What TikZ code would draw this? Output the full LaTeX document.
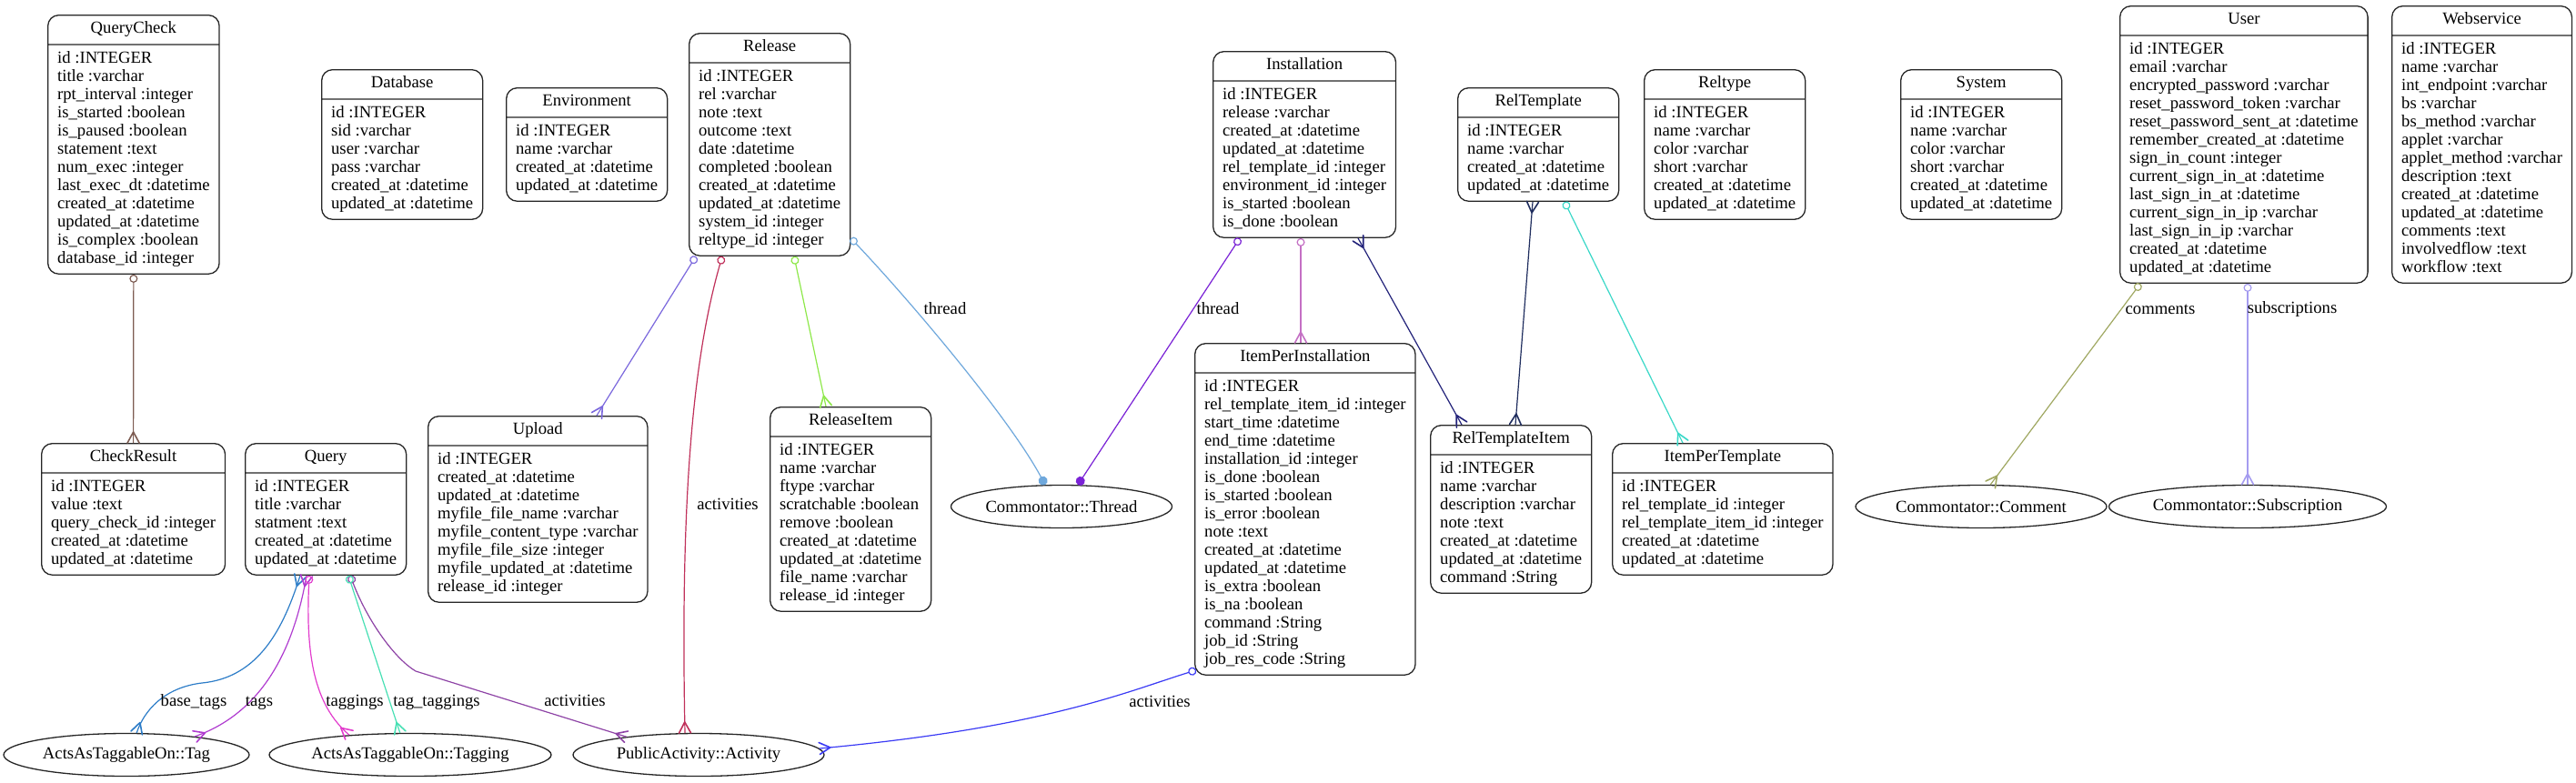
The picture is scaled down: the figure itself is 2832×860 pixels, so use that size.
\documentclass[tikz,border=0pt]{standalone}
\usepackage{fontspec}
\setmainfont{Liberation Serif}
\usetikzlibrary{shapes.multipart,shapes.geometric,arrows.meta,calc}

\pgfdeclarearrow{
  name = crowfoot,
  setup code = {
    \pgfarrowssettipend{0pt}
    \pgfarrowssetlineend{0pt}
    \pgfarrowssetbackend{-12pt}
    \pgfarrowssetvisualbackend{-12pt}
    \pgfarrowshullpoint{0pt}{6.5pt}
    \pgfarrowshullpoint{0pt}{-6.5pt}
    \pgfarrowshullpoint{-12pt}{0pt}
  },
  drawing code = {
    \pgfsetdash{}{0pt}
    \pgfsetroundjoin
    \pgfsetroundcap
    \pgfsetlinewidth{1.6pt}
    \pgfpathmoveto{\pgfqpoint{0pt}{6.5pt}}
    \pgfpathlineto{\pgfqpoint{-12pt}{0pt}}
    \pgfpathlineto{\pgfqpoint{0pt}{-6.5pt}}
    \pgfusepathqstroke
  }
}
\tikzset{oc/.tip={Circle[open,length=9pt,width=9pt]},
         dt/.tip={Circle[length=10pt,width=10pt]}}

\definecolor{cBrown}{RGB}{125,92,82}
\definecolor{cBaseTags}{RGB}{45,125,200}
\definecolor{cTags}{RGB}{176,60,208}
\definecolor{cTaggings}{RGB}{226,60,205}
\definecolor{cTagTaggings}{RGB}{72,224,180}
\definecolor{cQAct}{RGB}{142,68,166}
\definecolor{cUpload}{RGB}{123,104,221}
\definecolor{cRAct}{RGB}{192,48,90}
\definecolor{cRItem}{RGB}{142,232,74}
\definecolor{cRThread}{RGB}{111,168,220}
\definecolor{cIThread}{RGB}{122,34,214}
\definecolor{cIPI}{RGB}{196,112,196}
\definecolor{cNavy}{RGB}{35,35,122}
\definecolor{cDNavy}{RGB}{31,45,94}
\definecolor{cTurq}{RGB}{58,216,200}
\definecolor{cBlue}{RGB}{59,59,245}
\definecolor{cOlive}{RGB}{160,168,98}
\definecolor{cLav}{RGB}{165,156,240}

\newcommand{\erdrows}[1]{\begin{tabular}{@{}l@{}}#1\end{tabular}}
\newcommand{\erdfont}{\fontsize{18.67}{20}\selectfont}

\begin{document}
\begin{tikzpicture}[x=1pt,y=-1pt,
  tbl/.style={rectangle split, rectangle split parts=2, draw=black!85,
    line width=1.3pt, rounded corners=12pt, inner xsep=10.5pt, inner ysep=5.5pt,
    rectangle split part align={center,left}, anchor=north west, font=\erdfont},
  ell/.style={ellipse, draw=black!85, line width=1.3pt, inner sep=0pt,
    minimum height=47pt, font=\erdfont},
  lbl/.style={inner sep=0pt, font=\erdfont},
  con/.style={line width=1.2pt}]

\fill[white] (0,0) rectangle (2832,860);
\useasboundingbox (0,0) rectangle (2832,860);

% ---------- tables ----------
\node[tbl] (qc) at (52,16) {\strut QueryCheck\nodepart{two}\erdrows{id :INTEGER\\title :varchar\\rpt\_interval :integer\\is\_started :boolean\\is\_paused :boolean\\statement :text\\num\_exec :integer\\last\_exec\_dt :datetime\\created\_at :datetime\\updated\_at :datetime\\is\_complex :boolean\\database\_id :integer}};

\node[tbl] (db) at (353,76) {\strut Database\nodepart{two}\erdrows{id :INTEGER\\sid :varchar\\user :varchar\\pass :varchar\\created\_at :datetime\\updated\_at :datetime}};

\node[tbl] (env) at (556,96) {\strut Environment\nodepart{two}\erdrows{id :INTEGER\\name :varchar\\created\_at :datetime\\updated\_at :datetime}};

\node[tbl] (rel) at (757,36) {\strut Release\nodepart{two}\erdrows{id :INTEGER\\rel :varchar\\note :text\\outcome :text\\date :datetime\\completed :boolean\\created\_at :datetime\\updated\_at :datetime\\system\_id :integer\\reltype\_id :integer}};

\node[tbl] (inst) at (1333,56) {\strut Installation\nodepart{two}\erdrows{id :INTEGER\\release :varchar\\created\_at :datetime\\updated\_at :datetime\\rel\_template\_id :integer\\environment\_id :integer\\is\_started :boolean\\is\_done :boolean}};

\node[tbl] (rt) at (1602,96) {\strut RelTemplate\nodepart{two}\erdrows{id :INTEGER\\name :varchar\\created\_at :datetime\\updated\_at :datetime}};

\node[tbl] (rtype) at (1807,76) {\strut Reltype\nodepart{two}\erdrows{id :INTEGER\\name :varchar\\color :varchar\\short :varchar\\created\_at :datetime\\updated\_at :datetime}};

\node[tbl] (sys) at (2089,76) {\strut System\nodepart{two}\erdrows{id :INTEGER\\name :varchar\\color :varchar\\short :varchar\\created\_at :datetime\\updated\_at :datetime}};

\node[tbl] (user) at (2330,6) {\strut User\nodepart{two}\erdrows{id :INTEGER\\email :varchar\\encrypted\_password :varchar\\reset\_password\_token :varchar\\reset\_password\_sent\_at :datetime\\remember\_created\_at :datetime\\sign\_in\_count :integer\\current\_sign\_in\_at :datetime\\last\_sign\_in\_at :datetime\\current\_sign\_in\_ip :varchar\\last\_sign\_in\_ip :varchar\\created\_at :datetime\\updated\_at :datetime}};

\node[tbl] (ws) at (2629,6) {\strut Webservice\nodepart{two}\erdrows{id :INTEGER\\name :varchar\\int\_endpoint :varchar\\bs :varchar\\bs\_method :varchar\\applet :varchar\\applet\_method :varchar\\description :text\\created\_at :datetime\\updated\_at :datetime\\comments :text\\involvedflow :text\\workflow :text}};

\node[tbl] (cr) at (45,487) {\strut CheckResult\nodepart{two}\erdrows{id :INTEGER\\value :text\\query\_check\_id :integer\\created\_at :datetime\\updated\_at :datetime}};

\node[tbl] (query) at (269,487) {\strut Query\nodepart{two}\erdrows{id :INTEGER\\title :varchar\\statment :text\\created\_at :datetime\\updated\_at :datetime}};

\node[tbl] (upload) at (470,457) {\strut Upload\nodepart{two}\erdrows{id :INTEGER\\created\_at :datetime\\updated\_at :datetime\\myfile\_file\_name :varchar\\myfile\_content\_type :varchar\\myfile\_file\_size :integer\\myfile\_updated\_at :datetime\\release\_id :integer}};

\node[tbl] (ritem) at (846,447) {\strut ReleaseItem\nodepart{two}\erdrows{id :INTEGER\\name :varchar\\ftype :varchar\\scratchable :boolean\\remove :boolean\\created\_at :datetime\\updated\_at :datetime\\file\_name :varchar\\release\_id :integer}};

\node[tbl] (ipi) at (1313,377) {\strut ItemPerInstallation\nodepart{two}\erdrows{id :INTEGER\\rel\_template\_item\_id :integer\\start\_time :datetime\\end\_time :datetime\\installation\_id :integer\\is\_done :boolean\\is\_started :boolean\\is\_error :boolean\\note :text\\created\_at :datetime\\updated\_at :datetime\\is\_extra :boolean\\is\_na :boolean\\command :String\\job\_id :String\\job\_res\_code :String}};

\node[tbl] (rti) at (1572,467) {\strut RelTemplateItem\nodepart{two}\erdrows{id :INTEGER\\name :varchar\\description :varchar\\note :text\\created\_at :datetime\\updated\_at :datetime\\command :String}};

\node[tbl] (ipt) at (1772,487) {\strut ItemPerTemplate\nodepart{two}\erdrows{id :INTEGER\\rel\_template\_id :integer\\rel\_template\_item\_id :integer\\created\_at :datetime\\updated\_at :datetime}};

% ---------- ellipses ----------
\node[ell, minimum width=270pt] (tag) at (139,830) {ActsAsTaggableOn::Tag};
\node[ell, minimum width=310pt] (tagging) at (451,830) {ActsAsTaggableOn::Tagging};
\node[ell, minimum width=276pt] (act) at (768,830) {PublicActivity::Activity};
\node[ell, minimum width=243pt] (thr) at (1167,557) {Commontator::Thread};
\node[ell, minimum width=276pt] (com) at (2178,557) {Commontator::Comment};
\node[ell, minimum width=305pt] (sub) at (2471,557) {Commontator::Subscription};

% ---------- connectors ----------
\draw[con, cBrown, oc-crowfoot] (qc.south) -- (cr.north);

\draw[con, cBaseTags, crowfoot-crowfoot] ($(query.south west)+(61,0)$)
  .. controls (312,690) and (285,745) .. (222,751)
  .. controls (180,756) and (158,782) .. (tag.65);
\draw[con, cTags, crowfoot-crowfoot] ($(query.south west)+(68,0)$)
  .. controls (322,720) and (285,785) .. (tag.15);
\draw[con, cTaggings, oc-crowfoot] ($(query.south west)+(71,0)$)
  .. controls (336,720) and (345,775) .. (tagging.162);
\draw[con, cQAct, oc-crowfoot] ($(query.south west)+(116,0)$)
  .. controls (405,685) and (435,725) .. (457,738) -- (act.166);
\draw[con, cTagTaggings, oc-crowfoot] ($(query.south west)+(114,0)$) -- (tagging.115);

\draw[con, cUpload, oc-crowfoot] ($(rel.south west)+(8,0)$) -- ($(upload.north west)+(186,0)$);
\draw[con, cRAct, oc-crowfoot] ($(rel.south west)+(37,0)$)
  .. controls (760,400) and (748,560) .. (act.122);
\draw[con, cRItem, oc-crowfoot] ($(rel.south west)+(116,0)$) -- ($(ritem.north west)+(62,0)$);
\draw[con, cRThread, oc-dt] ($(rel.south east)+(0,-20)$)
  .. controls (1000,330) and (1110,460) .. (thr.127);

\draw[con, cIThread, oc-dt] ($(inst.south west)+(30,0)$) -- (thr.53);
\draw[con, cIPI, oc-crowfoot] ($(inst.south west)+(97,0)$) -- ($(ipi.north west)+(117,0)$);
\draw[con, cNavy, crowfoot-crowfoot] ($(inst.south west)+(160,0)$) -- ($(rti.north west)+(35,0)$);
\draw[con, cDNavy, crowfoot-crowfoot] ($(rt.south west)+(83,0)$) -- ($(rti.north west)+(94,0)$);
\draw[con, cTurq, oc-crowfoot] ($(rt.south west)+(118,0)$) -- ($(ipt.north west)+(78,0)$);

\draw[con, cBlue, oc-crowfoot] ($(ipi.south west)+(2,-6)$)
  .. controls (1240,760) and (1150,800) .. (act.3);

\draw[con, cOlive, oc-crowfoot] ($(user.south west)+(23,0)$) -- (com.67);
\draw[con, cLav, oc-crowfoot] ($(user.south west)+(141,0)$) -- (sub.north);

% ---------- labels ----------
\node[lbl] (lbt) at (213,772) {\strut base\_tags};
\node[lbl] (ltg) at (285,772) {\strut tags};
\node[lbl] (ltgs) at (390,772) {\strut taggings};
\node[lbl] (lttg) at (480,772) {\strut tag\_taggings};
\node[lbl] (lqa) at (632,772) {\strut activities};
\node[lbl] (lra) at (800,556) {\strut activities};
\node[lbl] (lrt) at (1039,341) {\strut thread};
\node[lbl] (lit) at (1339,341) {\strut thread};
\node[lbl] (lia) at (1275,773) {\strut activities};
\node[lbl] (lcm) at (2375,341) {\strut comments};
\node[lbl] (lsb) at (2520,340) {\strut subscriptions};
\end{tikzpicture}
\end{document}
